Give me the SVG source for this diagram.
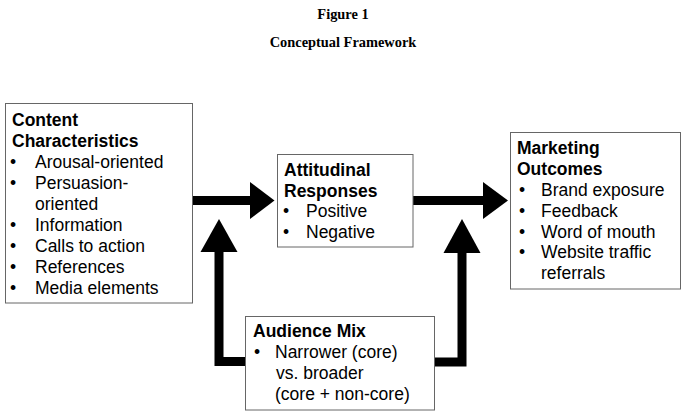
<svg xmlns="http://www.w3.org/2000/svg" width="689" height="420" viewBox="0 0 689 420">
<style>
.cap{font-family:"Liberation Serif","Times New Roman",serif;font-weight:bold;font-size:14.4px;fill:#000}
.t{font-family:"Liberation Sans",Arial,sans-serif;font-size:17.5px;fill:#000}
.b{font-weight:bold}
.box{fill:#fff;stroke:#666;stroke-width:1}
.arr{fill:#000}
.line{fill:none;stroke:#000;stroke-width:9;stroke-linejoin:miter}
</style>
<rect width="689" height="420" fill="#fff"/>
<text class="cap" x="343" y="18.5" text-anchor="middle">Figure 1</text>
<text class="cap" x="343" y="47" text-anchor="middle">Conceptual Framework</text>

<g id="connectors">
<rect class="arr" x="192" y="196" width="59" height="9"/>
<polygon class="arr" points="250,182 274.5,200.5 250,219"/>
<rect class="arr" x="413" y="196" width="71" height="9"/>
<polygon class="arr" points="483,182 508,200.5 483,219"/>
<polyline class="line" points="246,361.5 219,361.5 219,250"/>
<polygon class="arr" points="200.5,252 219,219 237.5,252"/>
<polyline class="line" points="435,362 462,362 462,250"/>
<polygon class="arr" points="443.5,253 462,219 480.5,253"/>
</g>

<g id="content">
<rect class="box" x="5.5" y="103.5" width="187" height="199.5"/>
<text class="t b" x="12" y="126">Content</text>
<text class="t b" x="12" y="147">Characteristics</text>
<text class="t" x="10" y="168">•</text><text class="t" x="35" y="168">Arousal-oriented</text>
<text class="t" x="10" y="189">•</text><text class="t" x="35" y="189">Persuasion-</text>
<text class="t" x="35" y="210">oriented</text>
<text class="t" x="10" y="231">•</text><text class="t" x="35" y="231">Information</text>
<text class="t" x="10" y="252">•</text><text class="t" x="35" y="252">Calls to action</text>
<text class="t" x="10" y="273">•</text><text class="t" x="35" y="273">References</text>
<text class="t" x="10" y="294">•</text><text class="t" x="35" y="294">Media elements</text>
</g>

<g id="attitudinal">
<rect class="box" x="277.5" y="154.5" width="135.5" height="92.5"/>
<text class="t b" x="284" y="176">Attitudinal</text>
<text class="t b" x="284" y="197">Responses</text>
<text class="t" x="283" y="217">•</text><text class="t" x="306" y="217">Positive</text>
<text class="t" x="283" y="238">•</text><text class="t" x="306" y="238">Negative</text>
</g>

<g id="marketing">
<rect class="box" x="510.5" y="132.5" width="170" height="156.5"/>
<text class="t b" x="517" y="154">Marketing</text>
<text class="t b" x="517" y="175">Outcomes</text>
<text class="t" x="519" y="196">•</text><text class="t" x="541" y="196">Brand exposure</text>
<text class="t" x="519" y="217">•</text><text class="t" x="541" y="217">Feedback</text>
<text class="t" x="519" y="238">•</text><text class="t" x="541" y="238">Word of mouth</text>
<text class="t" x="519" y="258">•</text><text class="t" x="541" y="258">Website traffic</text>
<text class="t" x="541" y="279">referrals</text>
</g>

<g id="audience">
<rect class="box" x="245.5" y="316.5" width="189" height="93.5"/>
<text class="t b" x="253" y="337">Audience Mix</text>
<text class="t" x="254" y="358">•</text><text class="t" x="275" y="358">Narrower (core)</text>
<text class="t" x="276" y="379">vs. broader</text>
<text class="t" x="275" y="400">(core + non-core)</text>
</g>
</svg>
